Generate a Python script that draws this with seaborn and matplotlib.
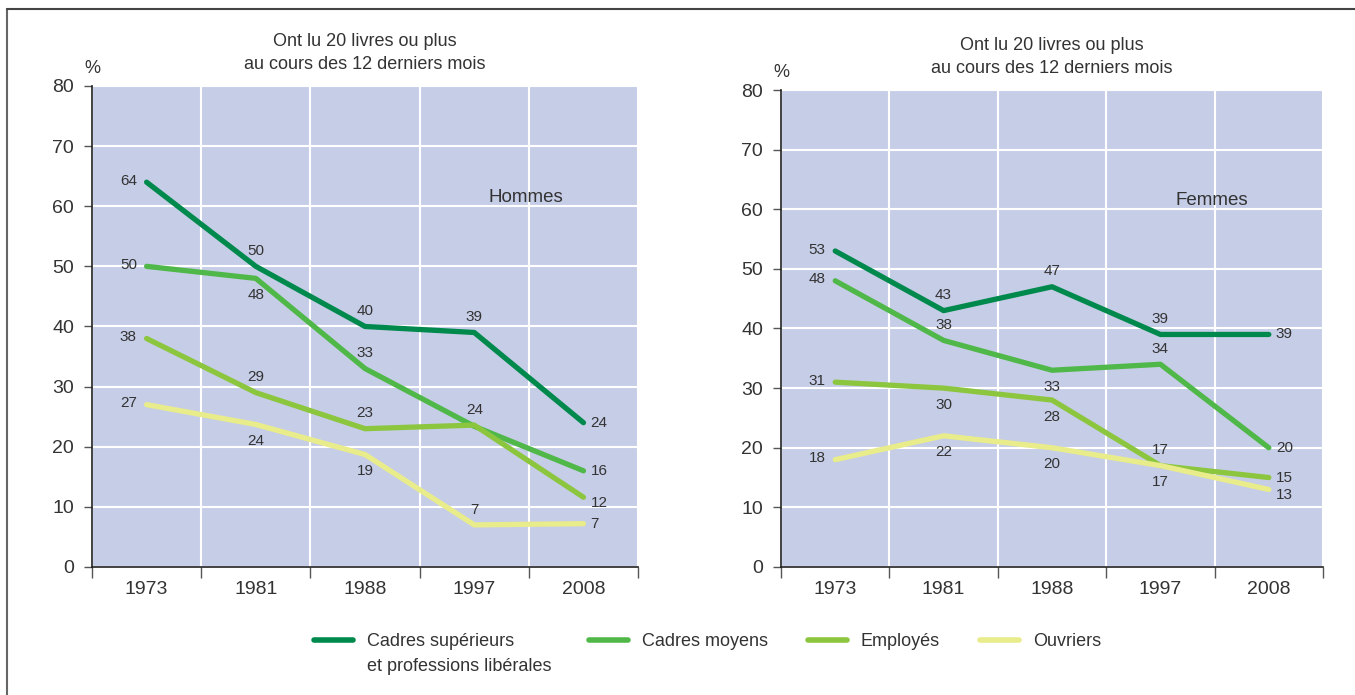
import numpy as np
import pandas as pd
import matplotlib.pyplot as plt
import seaborn as sns
from matplotlib.lines import Line2D

# Data
years = ['1973', '1981', '1988', '1997', '2008']
categories = ['Cadres supérieurs', 'Cadres moyens', 'Employés', 'Ouvriers']
cat_second_line = 'et professions libérales'
colors = ['#00894c', '#4fb848', '#8cc63e', '#e9ec8a']

# Hommes (values as drawn, labels as printed)
hommes_vals = {
    categories[0]: [64, 50, 40, 39, 24],
    categories[1]: [50, 48, 33, 23.4, 16],
    categories[2]: [38, 29, 23, 23.6, 11.6],
    categories[3]: [27, 23.7, 18.7, 7, 7.2],
}
hommes_labels = {
    categories[0]: ['64', '50', '40', '39', '24'],
    categories[1]: ['50', '48', '33', '', '16'],
    categories[2]: ['38', '29', '23', '24', '12'],
    categories[3]: ['27', '24', '19', '7', '7'],
}
# Femmes
femmes_vals = {
    categories[0]: [53, 43, 47, 39, 39],
    categories[1]: [48, 38, 33, 34, 20],
    categories[2]: [31, 30, 28, 17, 15],
    categories[3]: [18, 22, 20, 17, 13],
}
femmes_labels = {
    categories[0]: ['53', '43', '47', '39', '39'],
    categories[1]: ['48', '38', '33', '34', '20'],
    categories[2]: ['31', '30', '28', '17', '15'],
    categories[3]: ['18', '22', '20', '17', '13'],
}

# label placement: l=left, a=above, b=below, r=right, d=right and lower
hommes_place = {
    categories[0]: 'laaar',
    categories[1]: 'lbaar',
    categories[2]: 'laaad',
    categories[3]: 'lbbar',
}
femmes_place = {
    categories[0]: 'laaar',
    categories[1]: 'labar',
    categories[2]: 'lbbar',
    categories[3]: 'lbbbd',
}
offsets = {'l': (-7, 1, 'right', 'center'), 'a': (0, 11, 'center', 'center'),
           'b': (0, -12, 'center', 'center'), 'r': (5, 0, 'left', 'center'),
           'd': (5, -4, 'left', 'center')}

title = 'Ont lu 20 livres ou plus\nau cours des 12 derniers mois'
text_col = '#333333'
bg = '#c6cde7'

sns.set_style('white')
plt.rcParams['font.family'] = ['Liberation Sans', 'DejaVu Sans']


def long_df(vals):
    rows = []
    for cat in categories:
        for i, v in enumerate(vals[cat]):
            rows.append({'pos': i, 'valeur': v, 'categorie': cat})
    return pd.DataFrame(rows)


fig = plt.figure(figsize=(13.55, 6.95), dpi=100)
ax1 = fig.add_axes([0.0679, 0.1842, 0.403, 0.6921])
ax2 = fig.add_axes([0.5764, 0.1842, 0.400, 0.6863])

panels = [(ax1, hommes_vals, hommes_labels, hommes_place, 'Hommes'),
          (ax2, femmes_vals, femmes_labels, femmes_place, 'Femmes')]

for ax, vals, labs, place, name in panels:
    ax.set_facecolor(bg)
    df = long_df(vals)
    sns.lineplot(data=df, x='pos', y='valeur', hue='categorie', hue_order=categories,
                 palette=colors, linewidth=3.8, ax=ax, legend=False, zorder=3)
    for cat in categories:
        for i, (v, t, p) in enumerate(zip(vals[cat], labs[cat], place[cat])):
            if not t:
                continue
            dx, dy, ha, va = offsets[p]
            ax.annotate(t, (i, v), xytext=(dx, dy), textcoords='offset points',
                        ha=ha, va=va, fontsize=11, color=text_col, zorder=4)
    ax.set_xlim(-0.5, 4.5)
    ax.set_ylim(0, 80)
    ax.set_yticks(range(0, 81, 10))
    ax.set_xticks(np.arange(-0.5, 5, 1))
    ax.set_xticklabels([])
    ax.set_xticks(range(5), minor=True)
    ax.set_xticklabels(years, minor=True)
    ax.tick_params(axis='x', which='major', length=8, width=1, color='#555555', direction='out', bottom=True)
    ax.tick_params(axis='x', which='minor', length=0, labelsize=14, labelcolor=text_col, pad=10)
    ax.tick_params(axis='y', length=6, width=1, color='#555555', direction='out', left=True,
                   labelsize=14, labelcolor=text_col, pad=7)
    ax.grid(True, which='major', color='white', linewidth=1.5)
    ax.set_axisbelow(True)
    for s in ['top', 'right']:
        ax.spines[s].set_visible(False)
    for s in ['left', 'bottom']:
        ax.spines[s].set_color('#222222')
        ax.spines[s].set_linewidth(1.2)
    ax.set_xlabel('')
    ax.set_ylabel('')
    ax.set_title(title, fontsize=13, color=text_col, pad=12, linespacing=1.5)
    ax.text(0, 1.037, '%', transform=ax.transAxes, ha='center', va='center',
            fontsize=13, color=text_col)
    ax.text(3.47, 61.5, name, ha='center', va='center', fontsize=13.5, color=text_col)

# first label padded so its column is as wide as its second line
leg_labels = [categories[0] + ' ' * 7] + categories[1:]
handles = [Line2D([], [], color=c, linewidth=4) for c in colors]
leg = fig.legend(handles, leg_labels, loc='center', bbox_to_anchor=(0.522, 0.077), ncol=4,
                 frameon=False, fontsize=13, handlelength=2.2, handletextpad=0.75,
                 columnspacing=2.2, labelcolor=text_col)

# second line of the first legend label, under its first line
fig.canvas.draw()
bb = leg.get_texts()[0].get_window_extent().transformed(fig.transFigure.inverted())
fig.text(bb.x0, bb.y0 - 0.012, cat_second_line, ha='left', va='top', fontsize=13, color=text_col)

# outer frame (left and top)
fig.add_artist(Line2D([0.0055, 0.0055], [0, 0.987], transform=fig.transFigure, color='#666666', linewidth=1.5))
fig.add_artist(Line2D([0.0055, 1], [0.987, 0.987], transform=fig.transFigure, color='#444444', linewidth=1.5))

fig.savefig('out.png', dpi=100)
